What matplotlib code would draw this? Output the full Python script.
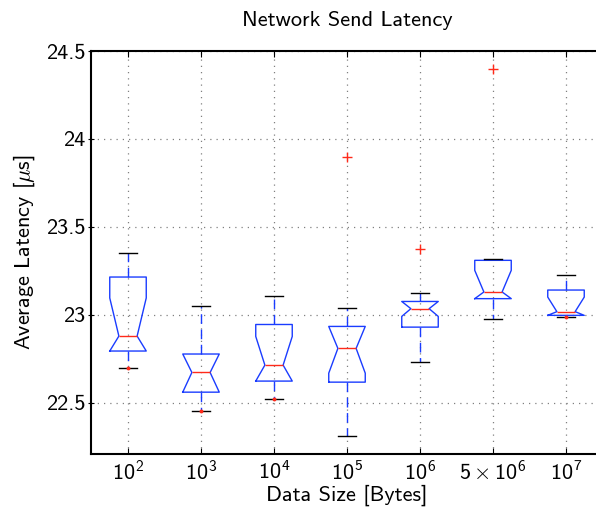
"""Notched boxplots of network send latency per data size (MATLAB-style look)."""
import numpy as np
import matplotlib
matplotlib.use("Agg")
import matplotlib.pyplot as plt

plt.rcParams["font.family"] = ["cmss10", "DejaVu Sans"]
plt.rcParams["mathtext.fontset"] = "cm"
plt.rcParams["mathtext.rm"] = "cmss10"
plt.rcParams["mathtext.sf"] = "cmss10"
plt.rcParams["mathtext.it"] = "cmss10"
plt.rcParams["axes.unicode_minus"] = False

# values (microseconds)
labels = [r"$10^2$", r"$10^3$", r"$10^4$", r"$10^5$", r"$10^6$", r"$5\times10^6$", r"$10^7$"]
whislo = [22.696, 22.453, 22.519, 22.312, 22.730, 22.978, 22.986]
q1 = [22.793, 22.559, 22.622, 22.616, 22.929, 23.091, 22.996]
med = [22.878, 22.671, 22.713, 22.808, 23.034, 23.129, 23.017]
q3 = [23.214, 22.776, 22.944, 22.933, 23.075, 23.309, 23.140]
whishi = [23.349, 23.051, 23.104, 23.035, 23.121, 23.314, 23.223]
notch_half = [0.217, 0.150, 0.163, 0.141, 0.044, 0.123, 0.083]
outliers = [[], [], [], [23.895], [23.371], [24.395], []]
low_dots = [22.696, 22.453, 22.519, None, None, None, 22.986]

stats = []
for i in range(len(labels)):
    stats.append(dict(med=med[i], q1=q1[i], q3=q3[i], whislo=whislo[i], whishi=whishi[i],
                      cilo=max(med[i] - notch_half[i], q1[i]),
                      cihi=min(med[i] + notch_half[i], q3[i]),
                      fliers=np.array(outliers[i])))

W, H = 596, 513
fig = plt.figure(figsize=(W / 100, H / 100), dpi=100)
ax = fig.add_axes([91.5 / W, (H - 453.5) / H, 511 / W, 402.5 / H])

blue = "#1a3cff"
ax.bxp(stats, positions=range(1, 8), widths=0.5, shownotches=True, patch_artist=False,
       boxprops=dict(color=blue, lw=1.0),
       whiskerprops=dict(color=blue, lw=1.0, ls=(0, (7, 4))),
       capprops=dict(color="black", lw=1.0),
       medianprops=dict(color="#ff2a1a", lw=1.0),
       flierprops=dict(marker="+", markeredgecolor="#ff2a1a", markersize=7, markeredgewidth=1.0, ls="none"))
for i, v in enumerate(low_dots):
    if v is not None:
        ax.plot(i + 1, v, "o", color="#ff2a1a", ms=1.8, zorder=5)

ax.set_xlim(0.5, 7.5)
ax.set_ylim(22.21, 24.5)
ax.set_xticks(range(1, 8))
ax.set_xticklabels(labels, fontsize=16)
for t in ax.get_xticklabels():
    t.set_math_fontfamily("custom")
ax.set_yticks([22.5, 23, 23.5, 24, 24.5])
ax.set_yticklabels(["22.5", "23", "23.5", "24", "24.5"], fontsize=16)
ax.tick_params(axis="x", direction="in", length=4, top=True, pad=5)
ax.tick_params(axis="y", direction="inout", length=5, pad=2)
ax.grid(True, color="#808080", ls=(0, (1, 4)), lw=0.9)
for s in ax.spines.values():
    s.set_linewidth(1.5)

ax.set_title("Network Send Latency", fontsize=16, pad=18)
ax.set_xlabel("Data Size [Bytes]", fontsize=16, labelpad=0)
ax.set_ylabel(r"Average Latency [$\mu$s]", fontsize=16, labelpad=6)

fig.savefig("out.png", dpi=100)
